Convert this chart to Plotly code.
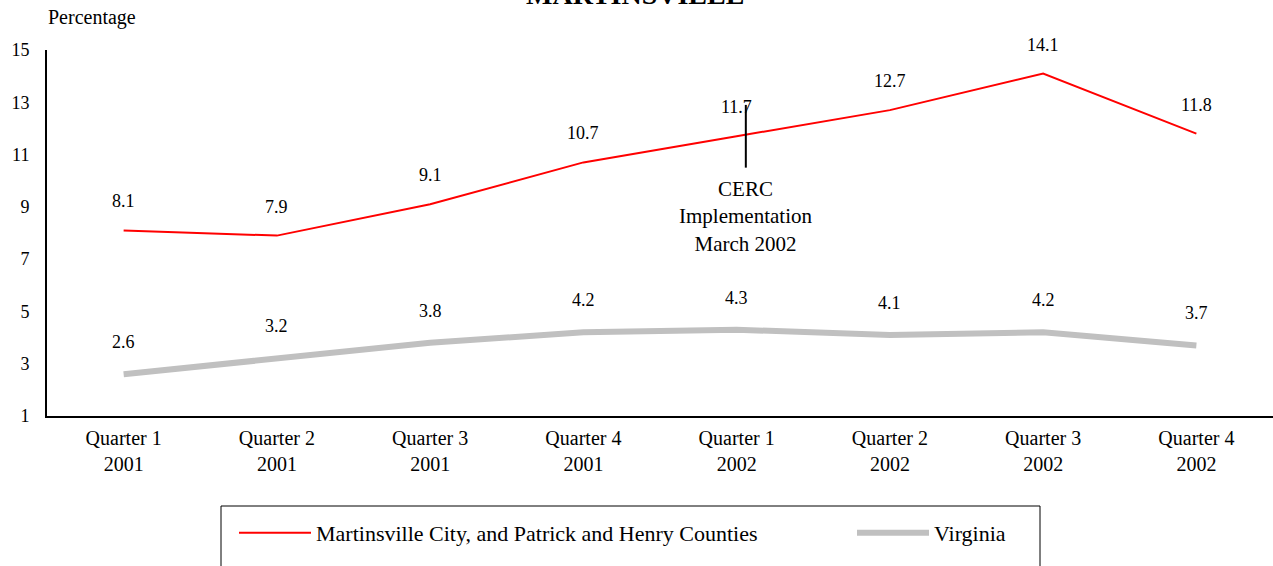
import plotly.graph_objects as go

# ── Data ──────────────────────────────────────────────────────────────────────
quarters = [
    "Quarter 1<br>2001", "Quarter 2<br>2001", "Quarter 3<br>2001", "Quarter 4<br>2001",
    "Quarter 1<br>2002", "Quarter 2<br>2002", "Quarter 3<br>2002", "Quarter 4<br>2002",
]
martinsville = [8.1, 7.9, 9.1, 10.7, 11.7, 12.7, 14.1, 11.8]
virginia = [2.6, 3.2, 3.8, 4.2, 4.3, 4.1, 4.2, 3.7]

cerc_x = 4.06          # March 2002, just after Quarter 1 2002
cerc_y = [10.5, 12.9]
y_ticks = [1, 3, 5, 7, 9, 11, 13, 15]

_RED = "#ff0000"
_GREY = "#c0c0c0"
_FONT = "Liberation Serif"


def _f(size, **kw):
    return dict(family=_FONT, size=size, color="black", **kw)


def _px_x(px):   # page pixel -> paper x
    return (px - 47) / 1226


def _px_y(py):   # page pixel -> paper y
    return (416 - py) / 366


fig = go.Figure()

fig.add_trace(go.Scatter(
    x=quarters, y=martinsville, mode="lines",
    name="Martinsville City, and Patrick and Henry Counties",
    line=dict(color=_RED, width=2), legend="legend",
))
fig.add_trace(go.Scatter(
    x=quarters, y=virginia, mode="lines",
    name="Virginia",
    line=dict(color=_GREY, width=6), legend="legend2",
))

# data labels above each point
for q, v in zip(quarters, martinsville):
    fig.add_annotation(x=q, y=v, text=f"{v:.1f}", showarrow=False,
                       yshift=29, font=_f(18))
for q, v in zip(quarters, virginia):
    fig.add_annotation(x=q, y=v, text=f"{v:.1f}", showarrow=False,
                       yshift=32, font=_f(18))

# CERC implementation marker
fig.add_shape(type="line", xref="x", yref="y",
              x0=cerc_x, x1=cerc_x, y0=cerc_y[0], y1=cerc_y[1],
              line=dict(color="black", width=2))
fig.add_annotation(x=cerc_x, y=cerc_y[0], text="CERC<br>Implementation<br>March 2002",
                   showarrow=False, yanchor="top", yshift=-7, font=_f(21))

# axis caption and (clipped) title
fig.add_annotation(text="Percentage", xref="paper", yref="paper", x=-0.001, y=_px_y(18),
                   xanchor="left", yanchor="middle", showarrow=False, font=_f(20))
fig.add_annotation(text="<b>MARTINSVILLE</b>", xref="paper", yref="paper", x=0.48, y=_px_y(12),
                   xanchor="center", yanchor="bottom", showarrow=False, font=_f(28))

# legend box (runs off the bottom of the page)
fig.add_shape(type="rect", xref="paper", yref="paper",
              x0=_px_x(221), x1=_px_x(1040), y0=_px_y(600), y1=_px_y(506),
              line=dict(color="black", width=1), fillcolor="rgba(0,0,0,0)")

_leg = dict(orientation="h", xanchor="left", yanchor="top", y=_px_y(512),
            font=_f(22), itemwidth=72, bgcolor="rgba(0,0,0,0)")

fig.update_layout(
    width=1273, height=566,
    margin=dict(l=47, r=0, t=50, b=150),
    paper_bgcolor="white", plot_bgcolor="white",
    font=_f(18),
    showlegend=True,
    legend=dict(_leg, x=_px_x(234)),
    legend2=dict(_leg, x=_px_x(852)),
)
fig.update_xaxes(
    range=[-0.5, 7.5], showgrid=False, showline=True, linecolor="black",
    linewidth=2, ticks="", tickfont=_f(20), ticklabelstandoff=3, automargin=False,
)
fig.update_yaxes(
    range=[1, 15], tickvals=y_ticks, showgrid=False, showline=True,
    linecolor="black", linewidth=2, ticks="", zeroline=False,
    tickfont=_f(18), ticklabelstandoff=12, automargin=False,
)

# drop the browser's default body margin so the figure starts at the page corner
fig.write_html("out.html", config={"displayModeBar": False},
               post_script="document.body.style.margin = '0';")
